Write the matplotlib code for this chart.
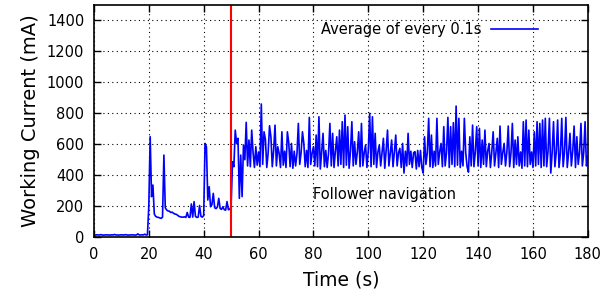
import numpy as np
import matplotlib
matplotlib.use("Agg")
import matplotlib.pyplot as plt

# current samples every 0.5 s, mA
idle_current = [15, 14, 16, 15, 15, 17, 15, 14, 15, 16,
                15, 15, 14, 16, 15, 18, 15, 15, 14, 15,
                16, 15, 15, 17, 15, 14, 15, 15, 16, 15,
                14, 15, 22, 15, 15, 16, 15, 20, 15, 16]          # 0.0 - 19.5 s
startup_current = [200, 648, 262, 337, 150, 135, 130, 128, 125, 122,
                   130, 530, 190, 176, 170, 168, 160, 162, 155, 150,
                   148, 142, 135, 132, 130, 130, 132, 128, 160, 130,
                   128, 215, 130, 230, 135, 128, 130, 205, 135, 130,
                   140, 605, 583, 240, 326, 197, 210, 283, 190, 185,
                   195, 251, 185, 180, 197, 178, 175, 230, 178, 180]  # 20.0 - 49.5 s
nav_current = [200, 487, 455, 691, 605, 638, 251, 530, 262, 595,
               500, 741, 460, 627, 455, 691, 545, 450, 584, 465,
               550, 455, 859, 470, 680, 631, 450, 545, 719, 648,
               455, 560, 723, 460, 584, 540, 450, 680, 465, 555,
               450, 680, 610, 455, 605, 445, 555, 460, 540, 734,
               470, 545, 680, 605, 455, 560, 450, 773, 470, 540,
               584, 460, 659, 455, 777, 440, 550, 670, 455, 560,
               450, 540, 734, 460, 670, 450, 555, 648, 460, 691,
               470, 745, 450, 788, 465, 713, 445, 555, 745, 460,
               616, 470, 550, 680, 455, 734, 460, 545, 595, 450,
               560, 799, 455, 777, 470, 670, 450, 550, 595, 460,
               545, 638, 445, 560, 691, 460, 540, 627, 455, 550,
               659, 460, 545, 573, 450, 605, 414, 555, 460, 670,
               470, 555, 450, 545, 552, 440, 560, 455, 560, 450,
               414, 648, 470, 545, 767, 455, 659, 450, 555, 460,
               767, 470, 550, 605, 455, 713, 460, 545, 773, 450,
               713, 470, 739, 455, 846, 465, 767, 450, 555, 460,
               767, 545, 455, 420, 648, 460, 723, 455, 550, 713,
               460, 702, 450, 627, 470, 691, 455, 555, 605, 450,
               550, 680, 460, 545, 638, 450, 717, 470, 545, 605,
               460, 550, 717, 455, 545, 734, 450, 627, 470, 648,
               460, 550, 445, 745, 460, 756, 455, 691, 470, 550,
               450, 680, 460, 745, 470, 734, 450, 756, 460, 767,
               455, 555, 767, 414, 545, 745, 455, 550, 756, 450,
               540, 767, 455, 550, 773, 450, 545, 670, 460, 555,
               717, 450, 648, 470, 550, 734, 460, 545, 745, 460,
               520]                                                # 50.0 - 180.0 s
SAMPLE_DT = 0.5
NAV_START = 50          # red marker: follower navigation begins
x_ticks = [0, 20, 40, 60, 80, 100, 120, 140, 160, 180]
y_ticks = [0, 200, 400, 600, 800, 1000, 1200, 1400]

current = np.array(idle_current + startup_current + nav_current, dtype=float)
t = np.arange(len(current)) * SAMPLE_DT

plt.rcParams["font.family"] = ["DejaVu Sans"]
fig = plt.figure(figsize=(6.06, 3.05), dpi=100)
ax = fig.add_axes([0.155, 0.222, 0.815, 0.763])

ax.plot(t, current, color="#0000ff", lw=1.2, label="Average of every 0.1s")
ax.axvline(NAV_START, color="#ff0000", lw=1.5)

ax.set_xlim(0, 180)
ax.set_ylim(0, 1500)
ax.set_xticks(x_ticks)
ax.set_yticks(y_ticks)
ax.grid(True, color="black", linestyle=(0, (1, 3)), lw=0.8)
ax.tick_params(direction="in", top=True, right=True, length=5, width=1,
               labelsize=10.5, pad=7)
for s in ax.spines.values():
    s.set_linewidth(1.2)

ax.set_xlabel("Time (s)", fontsize=13.5, labelpad=6)
ax.set_ylabel("Working Current (mA)", fontsize=14, labelpad=5)

ax.text(79.8, 279, "Follower navigation", fontsize=10.5, ha="left", va="center")
ax.legend(loc="center right", bbox_to_anchor=(0.899, 0.891), frameon=False,
          markerfirst=False, fontsize=10.5, handlelength=3.2,
          handletextpad=0.7, borderpad=0, borderaxespad=0)

fig.savefig("out.png", dpi=100)
